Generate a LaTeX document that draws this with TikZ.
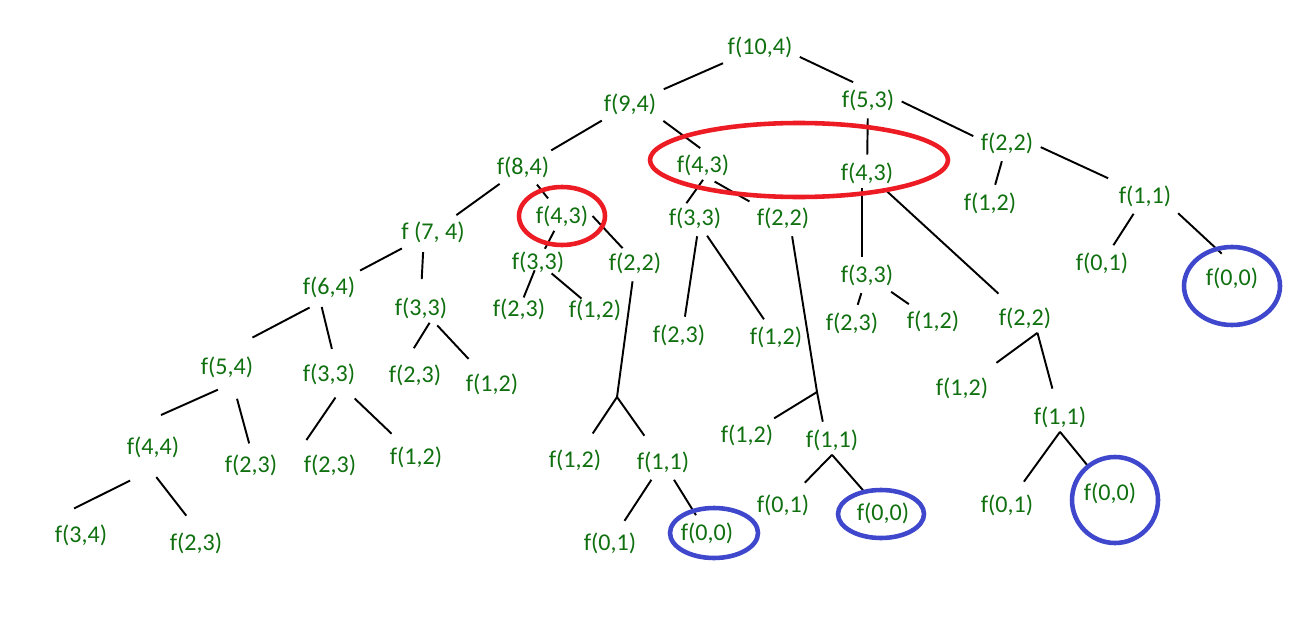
\documentclass[tikz,border=0pt]{standalone}
\usepackage{fontspec}
\setmainfont{Carlito}
\definecolor{callgreen}{RGB}{16,112,16}
\definecolor{markred}{RGB}{237,28,36}
\definecolor{markblue}{RGB}{63,72,204}
\begin{document}
\begin{tikzpicture}[x=0.02cm,y=-0.02cm,
		call/.style={text=callgreen,inner sep=0.08cm,font=\fontsize{13.7}{16}\selectfont},
		edge/.style={line width=1.1pt,shorten <=2pt,shorten >=2pt},
		ring/.style={draw=#1,line width=2.6pt}]
	\useasboundingbox (0,0) rectangle (1304,642);
	% calls, level by level
	\node [call] (0) at (760,47) {f(10,4)};
	\node [call] (1) at (630,104) {f(9,4)};
	\node [call] (2) at (868,100) {f(5,3)};
	\node [call] (3) at (523,167) {f(8,4)};
	\node [call] (4) at (703,165) {f(4,3)};
	\node [call] (5) at (867,173) {f(4,3)};
	\node [call] (6) at (1007,143) {f(2,2)};
	\node [call] (7) at (433,232) {f (7, 4)};
	\node [call] (8) at (562,216) {f(4,3)};
	\node [call] (9) at (695,218) {f(3,3)};
	\node [call] (10) at (783,218) {f(2,2)};
	\node [call] (11) at (990,203) {f(1,2)};
	\node [call] (12) at (1145,196) {f(1,1)};
	\node [call] (13) at (329,287) {f(6,4)};
	\node [call] (14) at (421,308) {f(3,3)};
	\node [call] (15) at (538,262) {f(3,3)};
	\node [call] (16) at (635,263) {f(2,2)};
	\node [call] (17) at (679,335) {f(2,3)};
	\node [call] (18) at (776,337) {f(1,2)};
	\node [call] (19) at (867,275) {f(3,3)};
	\node [call] (20) at (1025,318) {f(2,2)};
	\node [call] (21) at (1102,263) {f(0,1)};
	\node [call] (22) at (1232,278) {f(0,0)};
	\node [call] (23) at (227,367) {f(5,4)};
	\node [call] (24) at (329,374) {f(3,3)};
	\node [call] (25) at (415,375) {f(2,3)};
	\node [call] (26) at (492,384) {f(1,2)};
	\node [call] (27) at (519,309) {f(2,3)};
	\node [call] (28) at (595,310) {f(1,2)};
	\node [call] (29) at (852,323) {f(2,3)};
	\node [call] (30) at (933,321) {f(1,2)};
	\node [call] (31) at (962,388) {f(1,2)};
	\node [call] (32) at (1060,417) {f(1,1)};
	\node [call] (33) at (575,460) {f(1,2)};
	\node [call] (34) at (663,462) {f(1,1)};
	\node [call] (35) at (747,435) {f(1,2)};
	\node [call] (36) at (832,440) {f(1,1)};
	\node [call] (37) at (153,447) {f(4,4)};
	\node [call] (38) at (251,465) {f(2,3)};
	\node [call] (39) at (330,465) {f(2,3)};
	\node [call] (40) at (416,457) {f(1,2)};
	\node [call] (41) at (1007,505) {f(0,1)};
	\node [call] (42) at (1110,493) {f(0,0)};
	\node [call] (43) at (783,505) {f(0,1)};
	\node [call] (44) at (883,513) {f(0,0)};
	\node [call] (45) at (81,535) {f(3,4)};
	\node [call] (46) at (196,543) {f(2,3)};
	\node [call] (47) at (610,543) {f(0,1)};
	\node [call] (48) at (707,533) {f(0,0)};
	\coordinate (j1) at (617,397);
	\coordinate (j2) at (817,392);
	% branches
	\draw [edge] (0) -- (1);
	\draw [edge,shorten >=4pt] (0.-13) -- (2.120);
	\draw [edge] (1) -- (3);
	\draw [edge] (1.south east) -- (4.north);
	\draw [edge] (2) -- (5);
	\draw [edge] (2.east) -- (6.170);
	\draw [edge] (3) -- (7);
	\draw [edge] (3) -- (8);
	\draw [edge,shorten <=0pt,shorten >=0pt] (4.south) -- (9.120);
	\draw [edge] (4.-60) -- (10.north west);
	\draw [edge,shorten <=0pt] (5.-110) -- (19.110);
	\draw [edge,shorten >=8pt] (5) -- (20);
	\draw [edge] (6) -- (11);
	\draw [edge,shorten >=4pt] (6.-5) -- (12.north west);
	\draw [edge] (7) -- (13);
	\draw [edge,shorten <=3pt,shorten >=8pt] (7.-123) -- (14.north);
	\draw [edge,shorten <=0pt,shorten >=-1pt] (8) -- (15);
	\draw [edge,shorten <=0pt,shorten >=0pt] (8.east) -- (16.130);
	\draw [edge] (9.-80) -- (17.70);
	\draw [edge] (9) -- (18);
	\draw [edge] (10.-60) -- (j2) -- (36.120);
	\draw [edge,shorten <=0pt] (j2) -- (35);
	\draw [edge] (12) -- (21);
	\draw [edge,shorten >=8pt] (12.south east) -- (22.north);
	\draw [edge,shorten <=7pt,shorten >=36pt] (13.-120) -- (23.west);
	\draw [edge,shorten <=3pt,shorten >=6pt] (13.-120) -- (24.70);
	\draw [edge,shorten <=0pt,shorten >=8pt] (14.-60) -- (25.120);
	\draw [edge,shorten >=8pt] (14) -- (26);
	\draw [edge,shorten <=-4pt,shorten >=-2pt] (15) -- (27);
	\draw [edge,shorten <=-3pt,shorten >=-3pt] (15) -- (28);
	\draw [edge,shorten >=0pt] (16) -- (j1);
	\draw [edge,shorten <=0pt,shorten >=8pt] (j1) -- (33);
	\draw [edge,shorten <=0pt,shorten >=8pt] (j1) -- (34);
	\draw [edge] (19) -- (29);
	\draw [edge] (19) -- (30);
	\draw [edge,shorten <=0pt,shorten >=10pt] (20.-50) -- (31);
	\draw [edge,shorten <=0pt,shorten >=8pt] (20.-50) -- (32);
	\draw [edge,shorten <=11pt,shorten >=24pt] (23.-60) -- (37.north west);
	\draw [edge,shorten <=10pt,shorten >=4pt] (23.-70) -- (38.north);
	\draw [edge,shorten <=6pt,shorten >=7pt] (24.-50) -- (39.north west);
	\draw [edge,shorten <=8pt,shorten >=7pt] (24) -- (40);
	\draw [edge,shorten <=0pt,shorten >=6pt] (32.south) -- (41);
	\draw [edge,shorten <=0pt,shorten >=8pt] (32.south) -- (42);
	\draw [edge,shorten >=5pt] (34) -- (47);
	\draw [edge] (34) -- (48);
	\draw [edge,shorten <=0pt,shorten >=6pt] (36.south) -- (43);
	\draw [edge,shorten <=0pt,shorten >=6pt] (36.south) -- (44);
	\draw [edge,shorten <=24pt,shorten >=15pt] (37.-45) -- (45.north west);
	\draw [edge,shorten <=11pt,shorten >=9pt] (37.-120) -- (46.north);
	% repeated calls marked
	\draw [ring=markred] (799,160) ellipse (149 and 37);
	\draw [ring=markred] (562,216) ellipse (43 and 29);
	\draw [ring=markblue] (1232,286) ellipse (48 and 39);
	\draw [ring=markblue] (1115,500) ellipse (43 and 43);
	\draw [ring=markblue] (881,514) ellipse (43 and 24);
	\draw [ring=markblue] (714,533) ellipse (44 and 25);
\end{tikzpicture}
\end{document}
